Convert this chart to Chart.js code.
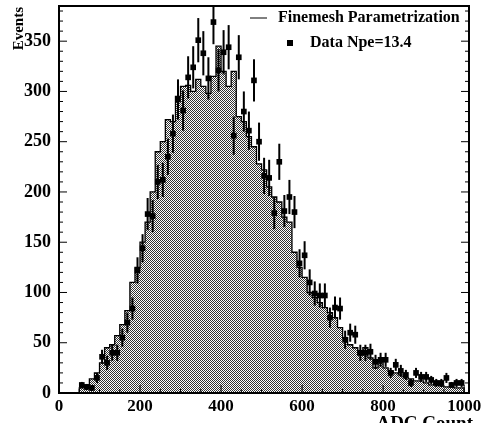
<!DOCTYPE html>
<html>
<head>
<meta charset="utf-8">
<script src="https://cdn.jsdelivr.net/npm/chart.js@4/dist/chart.umd.min.js"></script>
<style>
  html, body { margin: 0; padding: 0; background: #fff; overflow: hidden; }
  canvas { display: block; }
</style>
</head>
<body>
<canvas id="adc" width="481" height="423"></canvas>
<script>
// histogram binning (ADC counts)
const binStart = 50;
const binWidth = 12.5;

// Finemesh parametrization (histogram contents)
const paramCounts = [
  3, 5, 8, 14, 20, 30, 45, 48, 57, 68,
  82, 110, 125, 150, 170, 200, 240, 250, 272, 270,
  295, 305, 306, 300, 312, 305, 298, 315, 345, 320,
  305, 320, 275, 270, 255, 245, 228, 222, 205, 195,
  190, 175, 170, 140, 125, 115, 100, 95, 90, 85,
  80, 75, 65, 55, 48, 45, 38, 45, 35, 25,
  30, 25, 22, 20, 18, 15, 14, 12, 12, 10,
  8, 10, 7, 6, 6, 5
];

// measured data, Npe = 13.4
const dataCounts = [
  8, 6, 5, 15, 36, 30, 40, 40, 55, 70,
  84, 122, 144, 178, 176, 210, 212, 235, 258, 292,
  281, 314, 324, 351, 338, 313, 369, 321, 339, 344,
  256, 334, 280, 261, 311, 250, 216, 214, 179, 230,
  181, 195, 180, 129, 137, 110, 99, 97, 97, 75,
  85, 84, 53, 60, 58, 40, 40, 41, 31, 33,
  33, 20, 28, 22, 18, 10, 20, 16, 16, 13,
  10, 10, 15, 8, 10, 10
];

const dataErrors = [
  3, 3, 3, 5, 7, 7, 8, 8, 9, 10,
  11, 13, 14, 16, 16, 17, 17, 18, 19, 20,
  20, 21, 21, 22, 22, 21, 22, 21, 22, 22,
  19, 22, 20, 19, 21, 19, 18, 18, 16, 18,
  16, 17, 16, 14, 14, 13, 12, 12, 12, 10,
  11, 11, 9, 9, 9, 8, 8, 8, 7, 7,
  7, 5, 6, 6, 5, 4, 5, 5, 5, 4,
  4, 4, 5, 3, 4, 4
];

const xTicks = [0, 200, 400, 600, 800, 1000];
const yTicks = [0, 50, 100, 150, 200, 250, 300, 350];

const FONT = "'Liberation Serif', 'DejaVu Serif', serif";

// histogram outline points at bin edges
const histPoints = [{ x: binStart, y: 0 }];
paramCounts.forEach((v, i) => histPoints.push({ x: binStart + i * binWidth, y: v }));
histPoints.push({ x: binStart + paramCounts.length * binWidth, y: paramCounts[paramCounts.length - 1] });
histPoints.push({ x: binStart + paramCounts.length * binWidth, y: 0 });

const dataPoints = dataCounts.map((v, i) => ({
  x: binStart + (i + 0.5) * binWidth,
  y: v,
  e: dataErrors[i],
}));

// stipple fill like the printed figure
function stipple() {
  const c = document.createElement("canvas");
  c.width = 2;
  c.height = 2;
  const g = c.getContext("2d");
  g.fillStyle = "#fff";
  g.fillRect(0, 0, 2, 2);
  g.fillStyle = "#333";
  g.fillRect(0, 0, 1, 1);
  g.fillRect(1, 1, 1, 1);
  return g.createPattern(c, "repeat");
}

const frameAndBars = {
  id: "frameAndBars",
  afterDatasetsDraw(chart) {
    const { ctx, chartArea: a, scales } = chart;
    const xs = scales.x, ys = scales.y;
    ctx.save();
    // error bars, clipped to the frame
    ctx.save();
    ctx.beginPath();
    ctx.rect(a.left, a.top, a.right - a.left, a.bottom - a.top);
    ctx.clip();
    ctx.strokeStyle = "#000";
    ctx.lineWidth = 2;
    dataPoints.forEach((p) => {
      const px = xs.getPixelForValue(p.x);
      ctx.beginPath();
      ctx.moveTo(px, ys.getPixelForValue(p.y - p.e));
      ctx.lineTo(px, ys.getPixelForValue(p.y + p.e));
      ctx.stroke();
    });
    ctx.restore();
    // inward ticks
    ctx.strokeStyle = "#000";
    ctx.lineWidth = 1;
    for (let v = 0; v <= ys.max; v += 10) {
      const py = ys.getPixelForValue(v);
      const len = v % 50 === 0 ? 8 : 4;
      ctx.beginPath();
      ctx.moveTo(a.left, py);
      ctx.lineTo(a.left + len, py);
      ctx.moveTo(a.right, py);
      ctx.lineTo(a.right - len, py);
      ctx.stroke();
    }
    for (let v = 0; v <= xs.max; v += 50) {
      const px = xs.getPixelForValue(v);
      const len = v % 200 === 0 ? 8 : 4;
      ctx.beginPath();
      ctx.moveTo(px, a.bottom);
      ctx.lineTo(px, a.bottom - len);
      ctx.stroke();
    }
    // frame
    ctx.lineWidth = 2;
    ctx.strokeRect(a.left, a.top, a.right - a.left, a.bottom - a.top);

    // legend
    ctx.fillStyle = "#000";
    ctx.font = "bold 16px " + FONT;
    ctx.textBaseline = "middle";
    ctx.textAlign = "left";
    ctx.lineWidth = 1;
    ctx.beginPath();
    ctx.moveTo(250, 18);
    ctx.lineTo(267, 18);
    ctx.stroke();
    ctx.fillText("Finemesh Parametrization", 278, 18);
    ctx.fillRect(287, 40, 6, 6);
    ctx.fillText("Data Npe=13.4", 310, 43);

    // axis titles
    ctx.font = "bold 19px " + FONT;
    ctx.textAlign = "right";
    ctx.textBaseline = "alphabetic";
    ctx.fillText("ADC Count", 473, 429);
    ctx.translate(23, 7);
    ctx.rotate(-Math.PI / 2);
    ctx.textAlign = "right";
    ctx.font = "bold 15px " + FONT;
    ctx.fillText("Events", 0, 0);
    ctx.restore();
  },
};

new Chart(document.getElementById("adc"), {
  type: "scatter",
  data: {
    datasets: [
      {
        label: "Data Npe=13.4",
        data: dataPoints,
        pointStyle: "rect",
        pointRadius: 4,
        backgroundColor: "#000",
        borderColor: "#000",
        borderWidth: 0,
      },
      {
        label: "Finemesh Parametrization",
        data: histPoints,
        showLine: true,
        stepped: "after",
        fill: "origin",
        backgroundColor: stipple(),
        borderColor: "#000",
        borderWidth: 1.3,
        pointRadius: 0,
      },
    ],
  },
  options: {
    responsive: false,
    animation: false,
    layout: { padding: { top: 6, right: 12, left: 0, bottom: 0 } },
    scales: {
      x: {
        type: "linear",
        min: 0,
        max: 1012,
        afterBuildTicks: (s) => { s.ticks = xTicks.map((v) => ({ value: v })); },
        afterFit: (s) => { s.height = 30; s.paddingLeft = 0; s.paddingRight = 0; },
        grid: { display: false, drawTicks: false },
        border: { display: false },
        ticks: {
          color: "#000",
          font: { family: FONT, size: 17, weight: "bold" },
          padding: 3,
          maxRotation: 0,
          callback: (v) => String(v),
        },
      },
      y: {
        min: 0,
        max: 385,
        afterBuildTicks: (s) => { s.ticks = yTicks.map((v) => ({ value: v })); },
        afterFit: (s) => { s.width = 59; s.paddingTop = 0; s.paddingBottom = 0; },
        grid: { display: false, drawTicks: false },
        border: { display: false },
        ticks: {
          color: "#000",
          font: { family: FONT, size: 18, weight: "bold" },
          padding: 8,
          callback: (v) => String(v),
        },
      },
    },
    plugins: {
      legend: { display: false },
      tooltip: { enabled: false },
    },
  },
  plugins: [frameAndBars],
});
</script>
</body>
</html>
